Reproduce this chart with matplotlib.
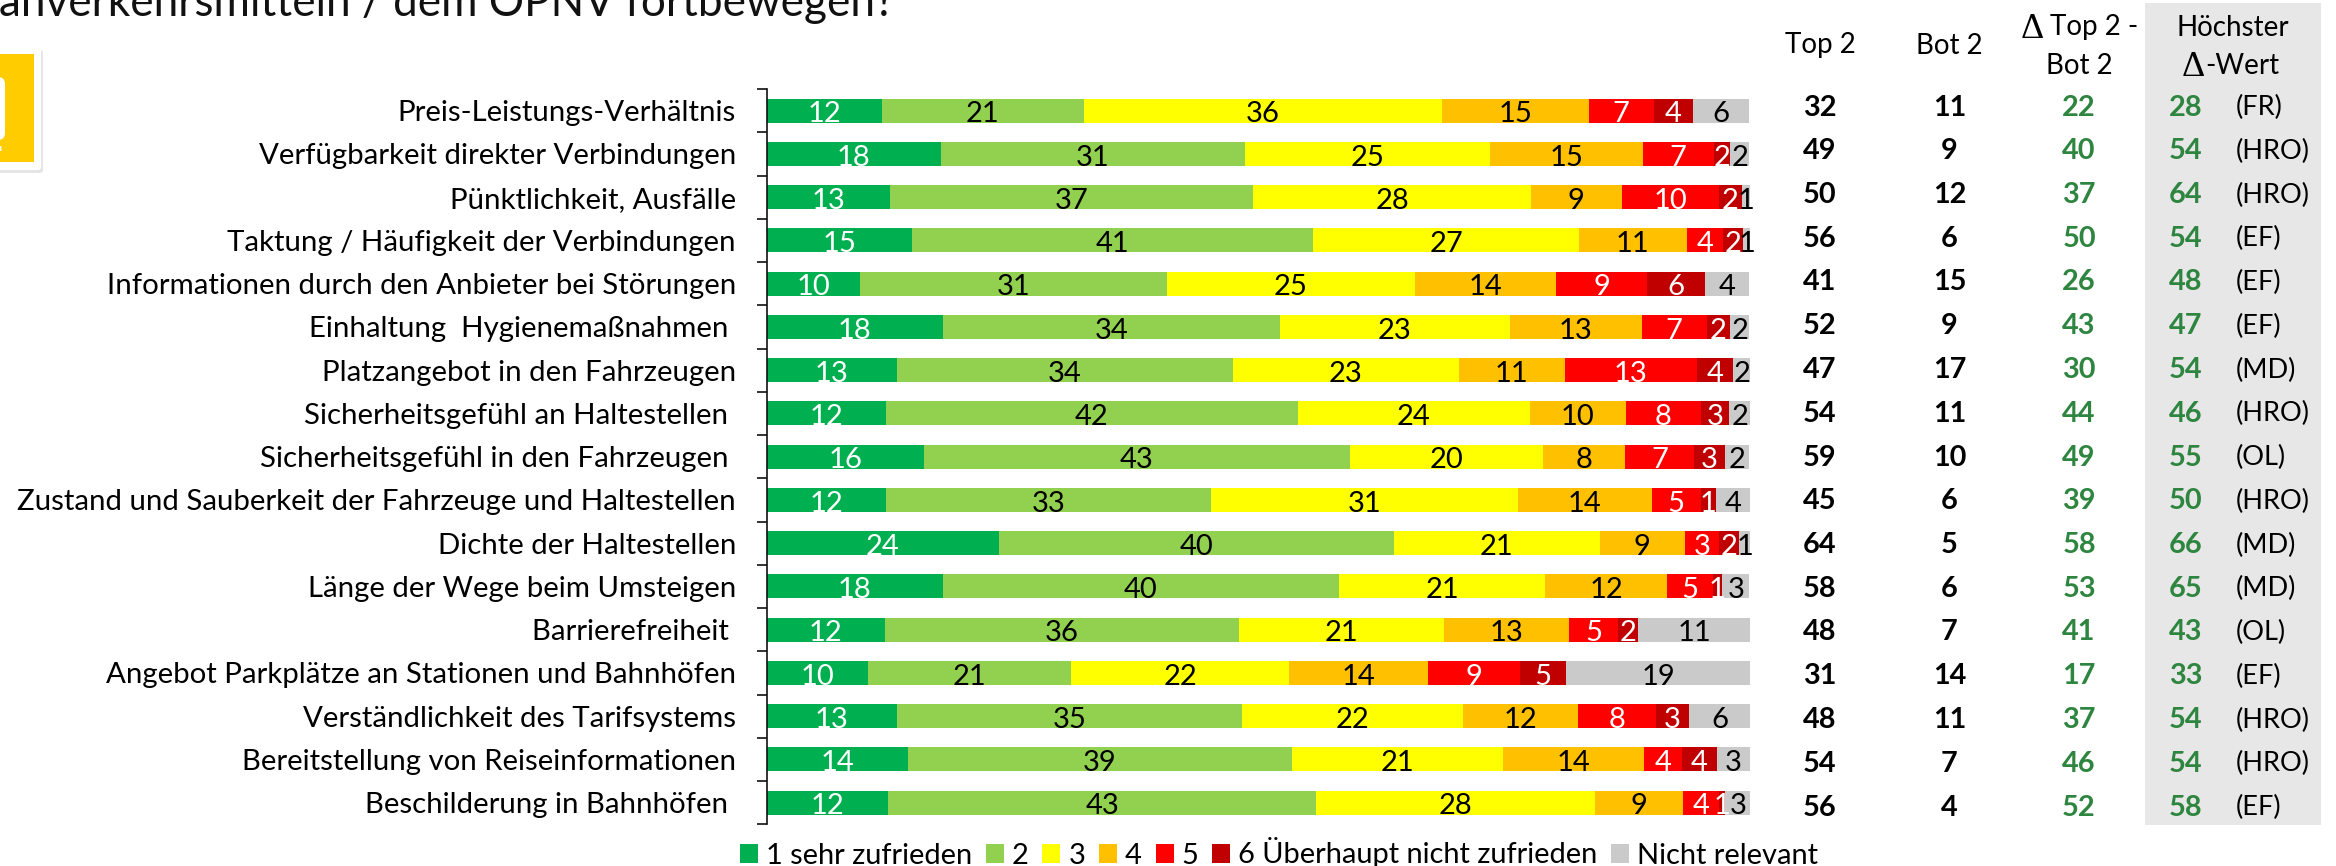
import numpy as np
import matplotlib
matplotlib.use("Agg")
import matplotlib.pyplot as plt
from matplotlib.patches import Rectangle, FancyBboxPatch
from matplotlib.transforms import IdentityTransform

W, H = 2336, 866
FONT = ["Lato", "DejaVu Sans"]
plt.rcParams["font.family"] = FONT

title_text = "ahverkehrsmitteln / dem ÖPNV fortbewegen?"
categories = ["Preis-Leistungs-Verhältnis", "Verfügbarkeit direkter Verbindungen", "Pünktlichkeit, Ausfälle",
              "Taktung / Häufigkeit der Verbindungen", "Informationen durch den Anbieter bei Störungen",
              "Einhaltung  Hygienemaßnahmen ", "Platzangebot in den Fahrzeugen", "Sicherheitsgefühl an Haltestellen ",
              "Sicherheitsgefühl in den Fahrzeugen ", "Zustand und Sauberkeit der Fahrzeuge und Haltestellen",
              "Dichte der Haltestellen", "Länge der Wege beim Umsteigen", "Barrierefreiheit ",
              "Angebot Parkplätze an Stationen und Bahnhöfen", "Verständlichkeit des Tarifsystems",
              "Bereitstellung von Reiseinformationen", "Beschilderung in Bahnhöfen "]
series_names = ["1 sehr zufrieden", "2", "3", "4", "5", "6 Überhaupt nicht zufrieden", "Nicht relevant"]
colors = ["#00B050", "#92D050", "#FFFF00", "#FFC000", "#FF0000", "#C00000", "#CACACA"]
label_colors = ["white", "black", "black", "black", "white", "white", "black"]

s1 = [11.7, 17.7, 12.6, 14.8, 9.5, 17.9, 13.3, 12.2, 16.0, 12.1, 23.6, 17.9, 12.0, 10.3, 13.3, 14.4, 12.4]
s2 = [20.6, 31.0, 36.9, 40.8, 31.2, 34.3, 34.1, 41.8, 43.3, 33.1, 40.2, 40.3, 36.0, 20.7, 35.0, 39.0, 43.5]
s3 = [36.4, 24.9, 28.2, 27.0, 25.2, 23.4, 23.0, 23.6, 19.7, 31.2, 20.9, 21.0, 20.9, 22.1, 22.5, 21.5, 28.3]
s4 = [14.9, 15.5, 9.3, 11.0, 14.4, 13.4, 10.8, 9.8, 8.3, 13.6, 8.7, 12.4, 12.7, 14.2, 11.7, 14.3, 9.0]
s5 = [6.6, 7.2, 9.8, 3.7, 9.2, 6.6, 13.4, 7.6, 7.0, 5.0, 3.4, 4.6, 5.0, 9.3, 7.9, 3.9, 3.6]
s6 = [4.0, 1.7, 2.4, 2.0, 5.9, 2.4, 3.7, 2.9, 3.2, 1.5, 2.1, 1.0, 2.0, 4.7, 3.4, 3.5, 0.7]
s7 = [5.7, 1.9, 0.8, 0.8, 4.5, 1.9, 1.7, 2.1, 2.4, 3.6, 1.1, 2.7, 11.5, 18.7, 6.2, 3.4, 2.5]

l1 = [12, 18, 13, 15, 10, 18, 13, 12, 16, 12, 24, 18, 12, 10, 13, 14, 12]
l2 = [21, 31, 37, 41, 31, 34, 34, 42, 43, 33, 40, 40, 36, 21, 35, 39, 43]
l3 = [36, 25, 28, 27, 25, 23, 23, 24, 20, 31, 21, 21, 21, 22, 22, 21, 28]
l4 = [15, 15, 9, 11, 14, 13, 11, 10, 8, 14, 9, 12, 13, 14, 12, 14, 9]
l5 = [7, 7, 10, 4, 9, 7, 13, 8, 7, 5, 3, 5, 5, 9, 8, 4, 4]
l6 = [4, 2, 2, 2, 6, 2, 4, 3, 3, 1, 2, 1, 2, 5, 3, 4, 1]
l7 = [6, 2, 1, 1, 4, 2, 2, 2, 2, 4, 1, 3, 11, 19, 6, 3, 3]

top2 = [32, 49, 50, 56, 41, 52, 47, 54, 59, 45, 64, 58, 48, 31, 48, 54, 56]
bot2 = [11, 9, 12, 6, 15, 9, 17, 11, 10, 6, 5, 6, 7, 14, 11, 7, 4]
delta = [22, 40, 37, 50, 26, 43, 30, 44, 49, 39, 58, 53, 41, 17, 37, 46, 52]
highest = [28, 54, 64, 54, 48, 47, 54, 46, 55, 50, 66, 65, 43, 33, 54, 54, 58]
regions = ["FR", "HRO", "HRO", "EF", "EF", "EF", "MD", "HRO", "OL", "HRO", "MD", "MD", "OL", "EF", "HRO", "HRO", "EF"]

series = [s1, s2, s3, s4, s5, s6, s7]
labels = [l1, l2, l3, l4, l5, l6, l7]

fig = plt.figure(figsize=(W / 100, H / 100), dpi=100, facecolor="white")
tf = fig.transFigure


def fx(x):
    return x / W


def fy(y):
    return 1 - y / H


def put(x, y, s, size=20.8, **kw):
    kw.setdefault("ha", "center")
    kw.setdefault("va", "center_baseline")
    kw.setdefault("color", "black")
    return fig.text(fx(x), fy(y), s, fontsize=size, **kw)


def round_box(x0, y0, x1, y1, r, color, z, alpha=1.0):
    fig.add_artist(FancyBboxPatch((x0, H - y1), x1 - x0, y1 - y0,
                                  boxstyle=f"round,pad=0,rounding_size={r}",
                                  transform=IdentityTransform(), facecolor=color, edgecolor="none",
                                  alpha=alpha, zorder=z))


# grey panel behind the last column
fig.add_artist(Rectangle((fx(2145), fy(825)), (2321 - 2145) / W, (825 - 3) / H, transform=tf,
                         facecolor="#E7E7E7", edgecolor="none", zorder=0))

# badge cut off at the left edge
round_box(-30, 50, 43, 173, 3, "#000000", 0.5, alpha=0.10)
round_box(-30, 47, 41, 170, 3, "white", 0.6)
fig.add_artist(Rectangle((fx(-20), fy(162)), 53.5 / W, 108 / H, transform=tf, facecolor="#FFCC00",
                         edgecolor="none", zorder=0.7))
round_box(-30, 77, 5, 140, 7, "white", 0.8)
round_box(-10, 146, 1.5, 151, 1, "white", 0.8)

# stacked bars
ax = fig.add_axes([fx(766.5), fy(824.25), (1750 - 766.5) / W, (824.25 - 89) / H])
ax.patch.set_alpha(0)
y = np.arange(len(categories))
left = np.zeros(len(categories))
handles = []
for vals, labs, col, lcol, name in zip(series, labels, colors, label_colors, series_names):
    vals = np.array(vals)
    bars = ax.barh(y, vals, left=left, height=0.555, color=col, edgecolor="none", label=name)
    handles.append(bars)
    for yi, xi, vi, li in zip(y, left, vals, labs):
        ax.text(xi + vi / 2, yi + 0.03, str(li), ha="center", va="center_baseline", color=lcol,
                fontsize=21, clip_on=False)
    left += vals

ax.set_xlim(0, 100)
ax.set_ylim(len(categories) - 0.5, -0.5)
ax.xaxis.set_visible(False)
for side in ("top", "right", "bottom"):
    ax.spines[side].set_visible(False)
ax.spines["left"].set_linewidth(1.2)
ax.spines["left"].set_color("#111111")
ax.set_yticks(np.arange(len(categories) + 1) - 0.5)
ax.set_yticklabels([])
ax.tick_params(axis="y", which="major", length=7, width=1.2, color="#111111")
ax.set_yticks(y, minor=True)
ax.set_yticklabels(categories, minor=True, fontsize=21.2)
ax.tick_params(axis="y", which="minor", length=0, pad=22)

# title cut off at the top and left edges
put(-1, 16, title_text, size=31.8, ha="left", va="baseline", color="#111111")

# table headers
put(1820, 43, "Top 2", size=20)
put(1949.5, 43, "Bot 2", size=20)
put(2021, 25, "Δ", size=26, ha="left", family="Liberation Serif")
put(2050, 25, "Top 2 -", size=20, ha="left")
put(2079, 63, "Bot 2", size=20)
put(2233, 25, "Höchster", size=20)
put(2205, 63, "Δ", size=26, ha="right", family="Liberation Serif")
put(2205, 63, "-Wert", size=20, ha="left")

# table rows
for i in range(len(categories)):
    yy = 105 + 43.75 * i
    put(1820, yy, str(top2[i]), fontweight="bold")
    put(1949.5, yy, str(bot2[i]), fontweight="bold")
    put(2079, yy, str(delta[i]), fontweight="bold", color="#2E8540")
    put(2186, yy, str(highest[i]), fontweight="bold", color="#2E8540")
    put(2236, yy, f"({regions[i]})", ha="left", size=19.5)

# legend
leg = fig.legend(handles=handles, labels=series_names, loc="center",
                 bbox_to_anchor=(fx(1279), fy(853)), ncol=7, frameon=False, fontsize=20.9,
                 handlelength=0.62, handleheight=0.62, handletextpad=0.28, columnspacing=0.47,
                 borderpad=0, borderaxespad=0)

fig.savefig("out.png", dpi=100)
